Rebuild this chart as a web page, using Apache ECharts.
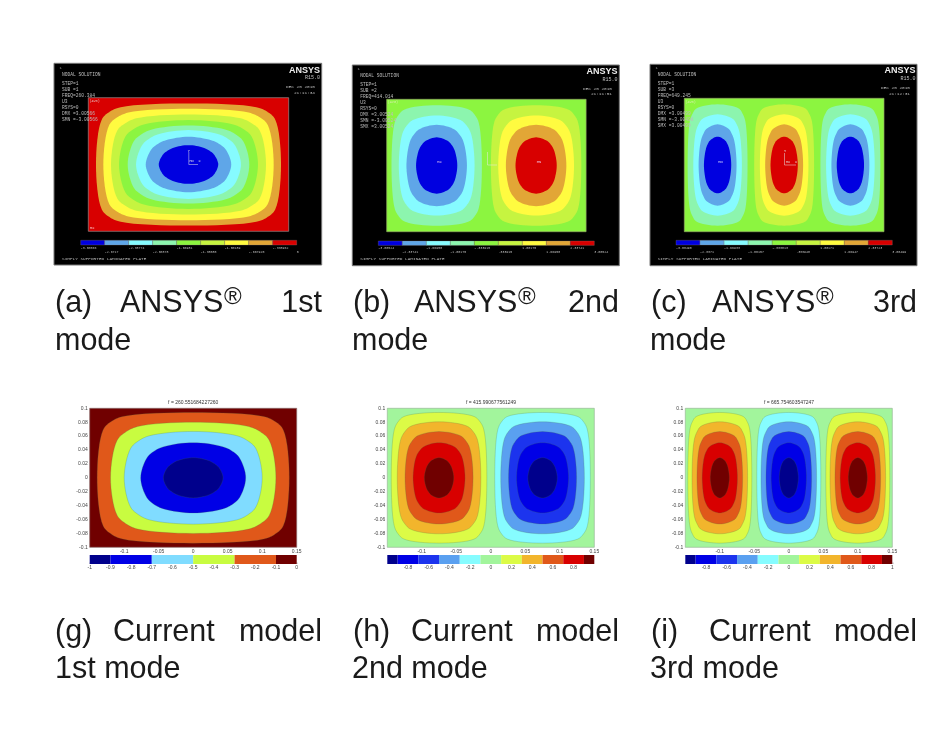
<!DOCTYPE html>
<html><head><meta charset="utf-8">
<style>html,body{margin:0;padding:0;background:#fff}#c{width:933px;height:740px;filter:blur(.35px)}</style>
<script src="https://cdn.jsdelivr.net/npm/echarts@6/dist/echarts.min.js"></script>
</head><body><div id="c"></div>
<script>
// ---------- DATA: contours (first quadrant about a lobe centre, plate metres) ----------
const plateX = [-0.15, 0.15];
const plateY = [-0.1, 0.1];

const ansys1Contours = [
  [[.1385,0],[.1299,.0671],[.1187,.0784],[.1015,.0858],[0,.0915]],
  [[.1275,0],[.1187,.0590],[.1072,.0702],[.0901,.0777],[0,.0835]],
  [[.116,0],[.1068,.0505],[.0951,.0615],[.0781,.0691],[0,.075]],
  [[.104,0],[.0944,.0419],[.0826,.0528],[.0655,.0604],[0,.0665]],
  [[.091,0],[.0817,.0351],[.0703,.0452],[.0546,.0525],[0,.0585]],
  [[.0785,0],[.0695,.0288],[.0589,.0386],[.044,.0456],[0,.0515]],
  [[.064,0],[.056,.022],[.0467,.0303],[.0339,.0363],[0,.0415]],
  [[.0445,0],[.0385,.0145],[.0315,.0205],[.0223,.0251],[0,.029]]
];
const ansys2Contours = [
  [[.068,0],[.0633,.0643],[.0572,.0765],[.0481,.0847],[0,.091]],
  [[.057,0],[.0518,.0476],[.0453,.0599],[.0359,.0686],[0,.0755]],
  [[.0455,0],[.0405,.0353],[.0345,.0466],[.0261,.0548],[0,.0615]],
  [[.031,0],[.0271,.0225],[.0226,.031],[.0164,.0372],[0,.0425]]
];
const ansys3Contours = [
  [[.045,0],[.0419,.0643],[.0378,.0765],[.0318,.0847],[0,.091]],
  [[.0365,0],[.0331,.0479],[.029,.0603],[.023,.069],[0,.076]],
  [[.0285,0],[.0254,.035],[.0216,.0462],[.0164,.0544],[0,.061]],
  [[.0205,0],[.0179,.0225],[.015,.031],[.0109,.0372],[0,.0425]]
];
const model1Contours = [
  [[.1392,0],[.1306,.0689],[.1193,.0806],[.102,.0882],[0,.094]],
  [[.1198,0],[.1103,.0538],[.0982,.0656],[.0806,.0737],[0,.08]],
  [[.1,0],[.0908,.042],[.0794,.053],[.063,.0606],[0,.0667]],
  [[.0761,0],[.0673,.0283],[.0571,.038],[.0426,.0448],[0,.0506]],
  [[.0432,0],[.0374,.0145],[.0305,.0204],[.0216,.025],[0,.0289]]
];
const model2Contours = [
  [[.0693,0],[.065,.0689],[.0594,.0806],[.0508,.0882],[0,.094]],
  [[.0606,0],[.0558,.0542],[.0497,.0661],[.0408,.0742],[0,.0806]],
  [[.0493,0],[.0448,.0419],[.0391,.0528],[.0311,.0604],[0,.0665]],
  [[.0377,0],[.0336,.029],[.0286,.0384],[.0216,.0451],[0,.0506]],
  [[.0213,0],[.0184,.0145],[.0151,.0205],[.0107,.0251],[0,.029]]
];
const model3Contours = [
  [[.0464,0],[.0435,.0689],[.0398,.0806],[.034,.0882],[0,.094]],
  [[.0403,0],[.0371,.0542],[.033,.0661],[.0272,.0742],[0,.0806]],
  [[.0331,0],[.0301,.0419],[.0263,.0528],[.0209,.0604],[0,.0665]],
  [[.0256,0],[.0228,.029],[.0194,.0384],[.0146,.0451],[0,.0506]],
  [[.0138,0],[.0119,.0145],[.0098,.0205],[.0069,.0251],[0,.029]]
];
const ansys2Lobes = [-0.0748, 0.0748];
const ansys3Lobes = [-0.1, 0, 0.0995];
const model2Lobes = [-0.075, 0.075];
const model3Lobes = [-0.1, 0, 0.1];

const ansys1Ticks = ['-3.00566','-2.6717','-2.33774','-2.00378','-1.66981','-1.33585','-1.00189','-.667925','-.333962','0'];
const ansys2Ticks = ['-3.00524','-2.33741','-1.66958','-1.00175','-.333915','.333915','1.00175','1.66958','2.33741','3.00524'];
const ansys3Ticks = ['-3.00498','-2.3371','-1.66933','-1.00157','-.333813','.333948','1.00171','1.66947','2.33723','3.00499'];

const model1Edges = [-1,-0.9,-0.7,-0.5,-0.3,-0.1,0];
const model2Edges = [-1,-0.9,-0.7,-0.5,-0.3,-0.1,0.1,0.3,0.5,0.7,0.9,1];

const ansys1Lines = ['NODAL SOLUTION','','STEP=1','SUB =1','FREQ=260.384','U3','RSYS=0','DMX =3.00566','SMN =-3.00566'];
const ansys2Lines = ['NODAL SOLUTION','','STEP=1','SUB =2','FREQ=414.014','U3','RSYS=0','DMX =3.00524','SMN =-3.00524','SMX =3.00524'];
const ansys3Lines = ['NODAL SOLUTION','','STEP=1','SUB =3','FREQ=649.245','U3','RSYS=0','DMX =3.00499','SMN =-3.00498','SMX =3.00499'];
const ansysStamps = [['DEC 25 2015','21:11:34'],['DEC 25 2015','21:11:51'],['DEC 25 2015','21:12:31']];
const ansysFooter = 'SIMPLY SUPPORTED LAMINATED PLATE';
const modelTitles = ['f = 260.551684227260','f = 415.990677561249','f = 665.754603547247'];

// ---------- STYLE / LAYOUT ----------
const A = {blue:'#0000e0',steel:'#5fa6e8',cyan:'#86fbff',mint:'#8cf5ae',green:'#8cf540',yg:'#c6f440',yellow:'#fffb40',orange:'#e2a636',red:'#d80000'};
const ansysBar = [A.blue,A.steel,A.cyan,A.mint,A.green,A.yg,A.yellow,A.orange,A.red];
const M = {navy:'#00008c',blue:'#0000e6',royal:'#1c34ee',steel:'#5aa0f0',cyan:'#86fcff',green:'#a2f59c',yellow:'#dcfb46',gold:'#f2b52c',orange:'#e0581a',red:'#d80000',dark:'#700000',ltblue:'#80dcff',yg:'#c8fc40'};
const model1Bar = [M.navy,M.blue,M.ltblue,M.yg,M.orange,M.dark];
const model2Bar = [M.navy,M.blue,M.royal,M.steel,M.cyan,M.green,M.yellow,M.gold,M.orange,M.red,M.dark];
const warmA = [A.yg,A.yellow,A.orange,A.red], coolA = [A.mint,A.cyan,A.steel,A.blue];
const warmM = [M.yellow,M.gold,M.orange,M.red,M.dark], coolM = [M.cyan,M.steel,M.royal,M.blue,M.navy];

const lobes = (centres, contours, palettes) => centres.flatMap((cx, k) =>
  contours.map((q, i) => ({cx, q, fill: palettes[k][i]})));

const MODEL_LINE = 'rgba(70,110,70,.55)';
const panels = [
  {rect:[88.3,97.7,200.4,133.6], bg:A.red, frame:'#9a8a8a', line:null,
   shapes: ansys1Contours.map((q,i)=>({cx:0,q,fill:[A.orange,A.yellow,A.yg,A.green,A.mint,A.cyan,A.steel,A.blue][i]}))},
  {rect:[386.7,99.3,199.4,132.4], bg:A.green, frame:'#8fa860', line:null,
   shapes: lobes(ansys2Lobes, ansys2Contours, [coolA, warmA])},
  {rect:[684.3,98.3,199.7,133.4], bg:A.green, frame:'#8fa860', line:null,
   shapes: lobes(ansys3Lobes, ansys3Contours, [coolA, warmA, coolA])},
  {rect:[89.7,408.3,207,139], bg:M.dark, frame:'#8a6a6a', line:MODEL_LINE,
   shapes: model1Contours.map((q,i)=>({cx:0,q,fill:[M.orange,M.yg,M.ltblue,M.blue,M.navy][i]}))},
  {rect:[387.3,408.3,207,139], bg:M.green, frame:'#9ab89a', line:MODEL_LINE,
   shapes: lobes(model2Lobes, model2Contours, [warmM, coolM])},
  {rect:[685.3,408.3,207,139], bg:M.green, frame:'#9ab89a', line:MODEL_LINE,
   shapes: lobes(model3Lobes, model3Contours, [warmM, coolM, warmM])}
];

const grids = [], xAxes = [], yAxes = [], series = [], gfx = [];
const SANS = '"Liberation Sans"', MONO = '"Liberation Mono"';

function addGrid(rect){ grids.push({left:rect[0],top:rect[1],width:rect[2],height:rect[3],containLabel:false}); return grids.length-1; }
function mirror(q, cx){
  const p = [];
  q.forEach(v=>p.push([cx+v[0], v[1]]));
  for(let i=q.length-2;i>=0;i--) p.push([cx-q[i][0], q[i][1]]);
  for(let i=1;i<q.length;i++) p.push([cx-q[i][0], -q[i][1]]);
  for(let i=q.length-2;i>0;i--) p.push([cx+q[i][0], -q[i][1]]);
  return p;
}
// centripetal Catmull-Rom through the read contour vertices (pixel space): only rounds the drawn outline
function curve(pts, steps){
  const n = pts.length, out = [];
  const L = (a,b,ta,tb,t)=>[(tb-t)/(tb-ta)*a[0]+(t-ta)/(tb-ta)*b[0],(tb-t)/(tb-ta)*a[1]+(t-ta)/(tb-ta)*b[1]];
  const d = (a,b)=>Math.sqrt(Math.hypot(a[0]-b[0],a[1]-b[1]))||1e-3;
  for(let i=0;i<n;i++){
    const p0=pts[(i-1+n)%n],p1=pts[i],p2=pts[(i+1)%n],p3=pts[(i+2)%n];
    const t0=0,t1=t0+d(p0,p1),t2=t1+d(p1,p2),t3=t2+d(p2,p3);
    for(let s=0;s<steps;s++){
      const t=t1+(t2-t1)*s/steps;
      const a1=L(p0,p1,t0,t1,t),a2=L(p1,p2,t1,t2,t),a3=L(p2,p3,t2,t3,t);
      const b1=L(a1,a2,t0,t2,t),b2=L(a2,a3,t1,t3,t);
      out.push(L(b1,b2,t1,t2,t));
    }
  }
  return out;
}
const rectOf = (api,x0,x1,y0,y1)=>{
  const a = api.coord([x0,y1]), b = api.coord([x1,y0]);
  return {x:a[0],y:a[1],width:b[0]-a[0],height:b[1]-a[1]};
};

panels.forEach((P,idx)=>{
  const g = addGrid(P.rect);
  const isModel = idx>=3;
  xAxes.push({gridIndex:g,type:'value',min:plateX[0],max:plateX[1],interval:0.05,show:isModel,
    axisLine:{show:false},axisTick:{show:false},splitLine:{show:false},
    axisLabel:{showMinLabel:false,margin:1.5,fontSize:5,color:'#444',fontFamily:'Liberation Sans'}});
  yAxes.push({gridIndex:g,type:'value',min:plateY[0],max:plateY[1],interval:0.02,show:isModel,
    axisLine:{show:false},axisTick:{show:false},splitLine:{show:false},
    axisLabel:{margin:2,fontSize:5,color:'#444',fontFamily:'Liberation Sans'}});
  const items = [{kind:'bg'}].concat(P.shapes.map(s=>({kind:'shape',s})),[{kind:'frame'}]);
  series.push({type:'custom',xAxisIndex:g,yAxisIndex:g,silent:true,clip:false,
    data:items.map((_,i)=>[i,0]),
    renderItem(params,api){
      const it = items[params.dataIndex];
      if(it.kind==='bg') return {type:'rect',shape:rectOf(api,plateX[0],plateX[1],plateY[0],plateY[1]),style:{fill:P.bg}};
      if(it.kind==='frame') return {type:'rect',shape:rectOf(api,plateX[0],plateX[1],plateY[0],plateY[1]),style:{fill:'none',stroke:P.frame,lineWidth:.7}};
      const pts = curve(mirror(it.s.q,it.s.cx).map(p=>api.coord(p)),8);
      return {type:'polygon',shape:{points:pts},
        style:{fill:it.s.fill,stroke:P.line||it.s.fill,lineWidth:P.line?.4:0}};
    }});
});

// ANSYS colour bars
[[ansys1Ticks,[80.7,240.3,216,4.7]],[ansys2Ticks,[378.3,241,216,4.4]],[ansys3Ticks,[676,240.3,216.3,4.7]]].forEach(([ticks,rect])=>{
  const g = addGrid(rect);
  xAxes.push({gridIndex:g,type:'category',data:ticks,boundaryGap:false,
    axisLine:{show:false},axisTick:{show:false},splitLine:{show:false},
    axisLabel:{interval:0,hideOverlap:false,align:'left',margin:.6,fontSize:3.3,lineHeight:4.3,color:'#bdbdbd',fontFamily:'Liberation Mono',
      formatter:(v,i)=>i%2?'\n'+v:v}});
  yAxes.push({gridIndex:g,type:'value',min:0,max:1,show:false});
  series.push({type:'custom',xAxisIndex:g,yAxisIndex:g,silent:true,clip:false,
    data:ansysBar.map((_,i)=>[i,0]),
    renderItem(params,api){
      const i = params.dataIndex;
      const r = rectOf(api,i,i+1,0,1);
      return {type:'rect',shape:r,style:{fill:ansysBar[i],stroke:'#8a7a7a',lineWidth:.3}};
    }});
});

// Model colour bars
[[model1Edges,model1Bar,[89.7,555,207,9],-1,0,0.1,true],
 [model2Edges,model2Bar,[387.3,555,207,9],-1,1,0.2,false],
 [model2Edges,model2Bar,[685.3,555,207,9],-1,1,0.2,true]].forEach(([edges,cols,rect,mn,mx,step,showMax],n)=>{
  const g = addGrid(rect);
  xAxes.push({gridIndex:g,type:'value',min:mn,max:mx,interval:step,
    axisLine:{show:false},axisTick:{show:true,inside:true,length:1.5,lineStyle:{color:'#444',width:.4}},splitLine:{show:false},
    axisLabel:{showMinLabel:n===0,showMaxLabel:showMax,margin:1.5,fontSize:5,color:'#444',fontFamily:'Liberation Sans'}});
  yAxes.push({gridIndex:g,type:'value',min:0,max:1,show:false});
  series.push({type:'custom',xAxisIndex:g,yAxisIndex:g,silent:true,clip:false,
    data:cols.map((_,i)=>[i,0]),
    renderItem(params,api){
      const i = params.dataIndex;
      return {type:'rect',shape:rectOf(api,edges[i],edges[i+1],0,1),style:{fill:cols[i]}};
    }});
});

// ---------- text & panel furniture ----------
function txt(text,x,y,font,fill,align,z){
  gfx.push({type:'text',x,y,z:z||100,silent:true,style:{text,font,fill,textAlign:align||'left',textVerticalAlign:'middle'}});
}
function ln(x1,y1,x2,y2){ gfx.push({type:'line',z:100,silent:true,shape:{x1,y1,x2,y2},style:{stroke:'#e8e8e8',lineWidth:.5}}); }

const ansysFrames = [
  {box:[54,63.3,267.7,201.7],tx:62,ty:74.3,lines:ansys1Lines,ansysR:320,stampR:315,brand:[70.5,77.7,87.3,93.3],foot:259,one:[59.5,67.5]},
  {box:[352.3,65,267,200.7],tx:360.3,ty:75.3,lines:ansys2Lines,ansysR:617.5,stampR:612,brand:[71.3,79.3,88.7,94.3],foot:259.3,one:[357.5,68.5]},
  {box:[650,64.3,267,201.4],tx:657.7,ty:74.7,lines:ansys3Lines,ansysR:915.5,stampR:910,brand:[71,78.7,87.7,93.7],foot:259.3,one:[655.5,67.5]}
];
ansysFrames.forEach((F,i)=>{
  gfx.push({type:'rect',z:-5,silent:true,shape:{x:F.box[0],y:F.box[1],width:F.box[2],height:F.box[3]},style:{fill:'#000',stroke:'#777',lineWidth:1}});
  F.lines.forEach((t,k)=>{ if(t) txt(t,F.tx,F.ty+(k?k*6-3:0),'4.6px '+MONO,'#bdbdbd'); });
  txt('1',F.one[0],F.one[1],'4px '+MONO,'#9a9a9a');
  txt('ANSYS',F.ansysR,F.brand[0],'bold 9px '+SANS,'#eeeeee','right');
  txt('R15.0',F.ansysR,F.brand[1],'5px '+MONO,'#c4c4c4','right');
  txt(ansysStamps[i][0],F.stampR,F.brand[2],'4.4px '+MONO,'#bdbdbd','right');
  txt(ansysStamps[i][1],F.stampR,F.brand[3],'4.4px '+MONO,'#bdbdbd','right');
  txt(ansysFooter,F.tx,F.foot,'4.4px '+MONO,'#bdbdbd');
});
txt('(AVG)',89.5,101.6,'3.4px '+MONO,'#e8b8b8');
txt('(AVG)',387.8,102.5,'3.4px '+MONO,'#d0f0a0');
txt('(AVG)',685.5,101.8,'3.4px '+MONO,'#d0f0a0');
txt('MX',90,228,'3.6px '+MONO,'#ffd0d0');
// markers and triads
ln(188.8,152,188.8,164.5); ln(188.8,164.5,198,164.5);
txt('Y',188.8,151,'3.6px '+MONO,'#e8e8e8','center');
txt('MN',191.5,161.5,'3.4px '+MONO,'#e8e8e8','center');
txt('X',199.5,161.5,'3.4px '+MONO,'#e8e8e8','center');
txt('MX',439.5,162,'3.6px '+MONO,'#f0d0f0','center');
txt('MN',539,162,'3.6px '+MONO,'#f0d0f0','center');
ln(487.5,152,487.5,165); ln(487.5,165,497,165);
ln(784.5,153,784.5,165); ln(784.5,165,796,165);
txt('Y',785,151,'3.6px '+MONO,'#e8e8e8','center');
txt('MX',788,162,'3.4px '+MONO,'#e8e8e8','center');
txt('X',796,162,'3.4px '+MONO,'#e8e8e8','center');
txt('MN',720.5,162,'3.6px '+MONO,'#e0e0ff','center');

// plot titles
[193.2,491,789].forEach((x,i)=>txt(modelTitles[i],x,403,'5px '+SANS,'#333','center'));

// captions (justified in the source, so each word is placed)
const CAP = '30.5px '+SANS, capC = '#1a1a1a';
[[55,120,224,322,'(a)','1st',55],[353,414,518,619,'(b)','2nd',352],[651,712,816,917,'(c)','3rd',650]].forEach(([a,b,r,e,l,o,m])=>{
  txt(l,a,303.5,CAP,capC); txt('ANSYS',b,303.5,CAP,capC);
  txt('®',r,297,'24px '+SANS,capC);
  txt(o,e,303.5,CAP,capC,'right');
  txt('mode',m,341.5,CAP,capC);
});
[[55,113,322,'(g)','1st mode',55],[353,411,619,'(h)','2nd mode',352],[651,709,917,'(i)','3rd mode',650]].forEach(([a,b,e,l,s,m])=>{
  txt(l,a,632.5,CAP,capC); txt('Current',b,632.5,CAP,capC); txt('model',e,632.5,CAP,capC,'right');
  txt(s,m,669.5,CAP,capC);
});

const chart = echarts.init(document.getElementById('c'),null,{renderer:'canvas',width:933,height:740});
chart.setOption({animation:false,backgroundColor:'#fff',grid:grids,xAxis:xAxes,yAxis:yAxes,series,graphic:{elements:gfx}});
</script></body></html>
